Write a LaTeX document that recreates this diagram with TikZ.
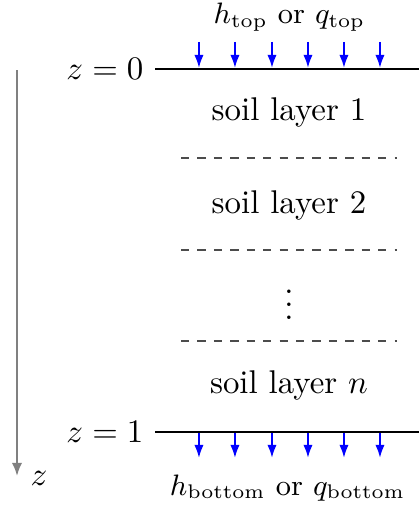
\documentclass[tikz,border=0pt]{standalone}
\usepackage{amsmath}
\usetikzlibrary{arrows.meta}
\tikzset{
  bound/.style = {thick, black},
  flux/.style  = {-{Latex[length=1.4mm,width=1mm]}, semithick, blue},
  sep/.style   = {dash pattern=on 2.5pt off 2.5pt, black!70},
  depth/.style = {-{Latex[length=1.4mm,width=1.1mm]}, semithick, gray},
  bc/.style    = {font=\small},
}

\begin{document}
\begin{tikzpicture}
    \useasboundingbox (0,0) rectangle (4.481,-5.412);

    % boundaries
    \coordinate (topL) at (1.658,-0.738);
    \coordinate (topR) at (4.481,-0.738);
    \coordinate (botL) at (1.658,-4.620);
    \coordinate (botR) at (4.481,-4.620);
    \draw[bound] (topL) -- (topR);
    \draw[bound] (botL) -- (botR);
    \node[left] (ztop) at (topL) {$z=0$};
    \node[left] (zbot) at (botL) {$z=1$};

    % boundary conditions
    \node[bc] (bctop) at (3.096,-0.182) {$h_{\text{top}}$ or $q_{\text{top}}$};
    \node[bc] (bcbot) at (3.075,-5.219) {$h_{\text{bottom}}$ or $q_{\text{bottom}}$};
    \foreach \x [count=\i] in {2.128,2.513,2.909,3.294,3.679,4.064} {
        \coordinate (a\i) at (\x,-0.449);
        \coordinate (b\i) at (\x,-0.727);
        \coordinate (c\i) at (\x,-4.631);
        \coordinate (d\i) at (\x,-4.898);
        \draw[flux] (a\i) -- (b\i);
        \draw[flux] (c\i) -- (d\i);
    }

    % layers
    \node (lay1) at (3.091,-1.198) {soil layer 1};
    \node (lay2) at (3.091,-2.193) {soil layer 2};
    \node (dots) at (3.091,-3.155) {$\vdots$};
    \node (layn) at (3.091,-4.118) {soil layer $n$};
    \foreach \y [count=\i] in {-1.690,-2.674,-3.647} {
        \coordinate (sl\i) at (1.936,\y);
        \coordinate (sr\i) at (4.246,\y);
        \draw[sep] (sl\i) -- (sr\i);
    }

    % depth axis
    \coordinate (z0) at (0.182,-0.749);
    \coordinate (z1) at (0.182,-5.091);
    \draw[depth] (z0) -- (z1);
    \node[right, inner sep=0pt] (zlbl) at (0.32,-5.115) {$z$};
\end{tikzpicture}
\end{document}
